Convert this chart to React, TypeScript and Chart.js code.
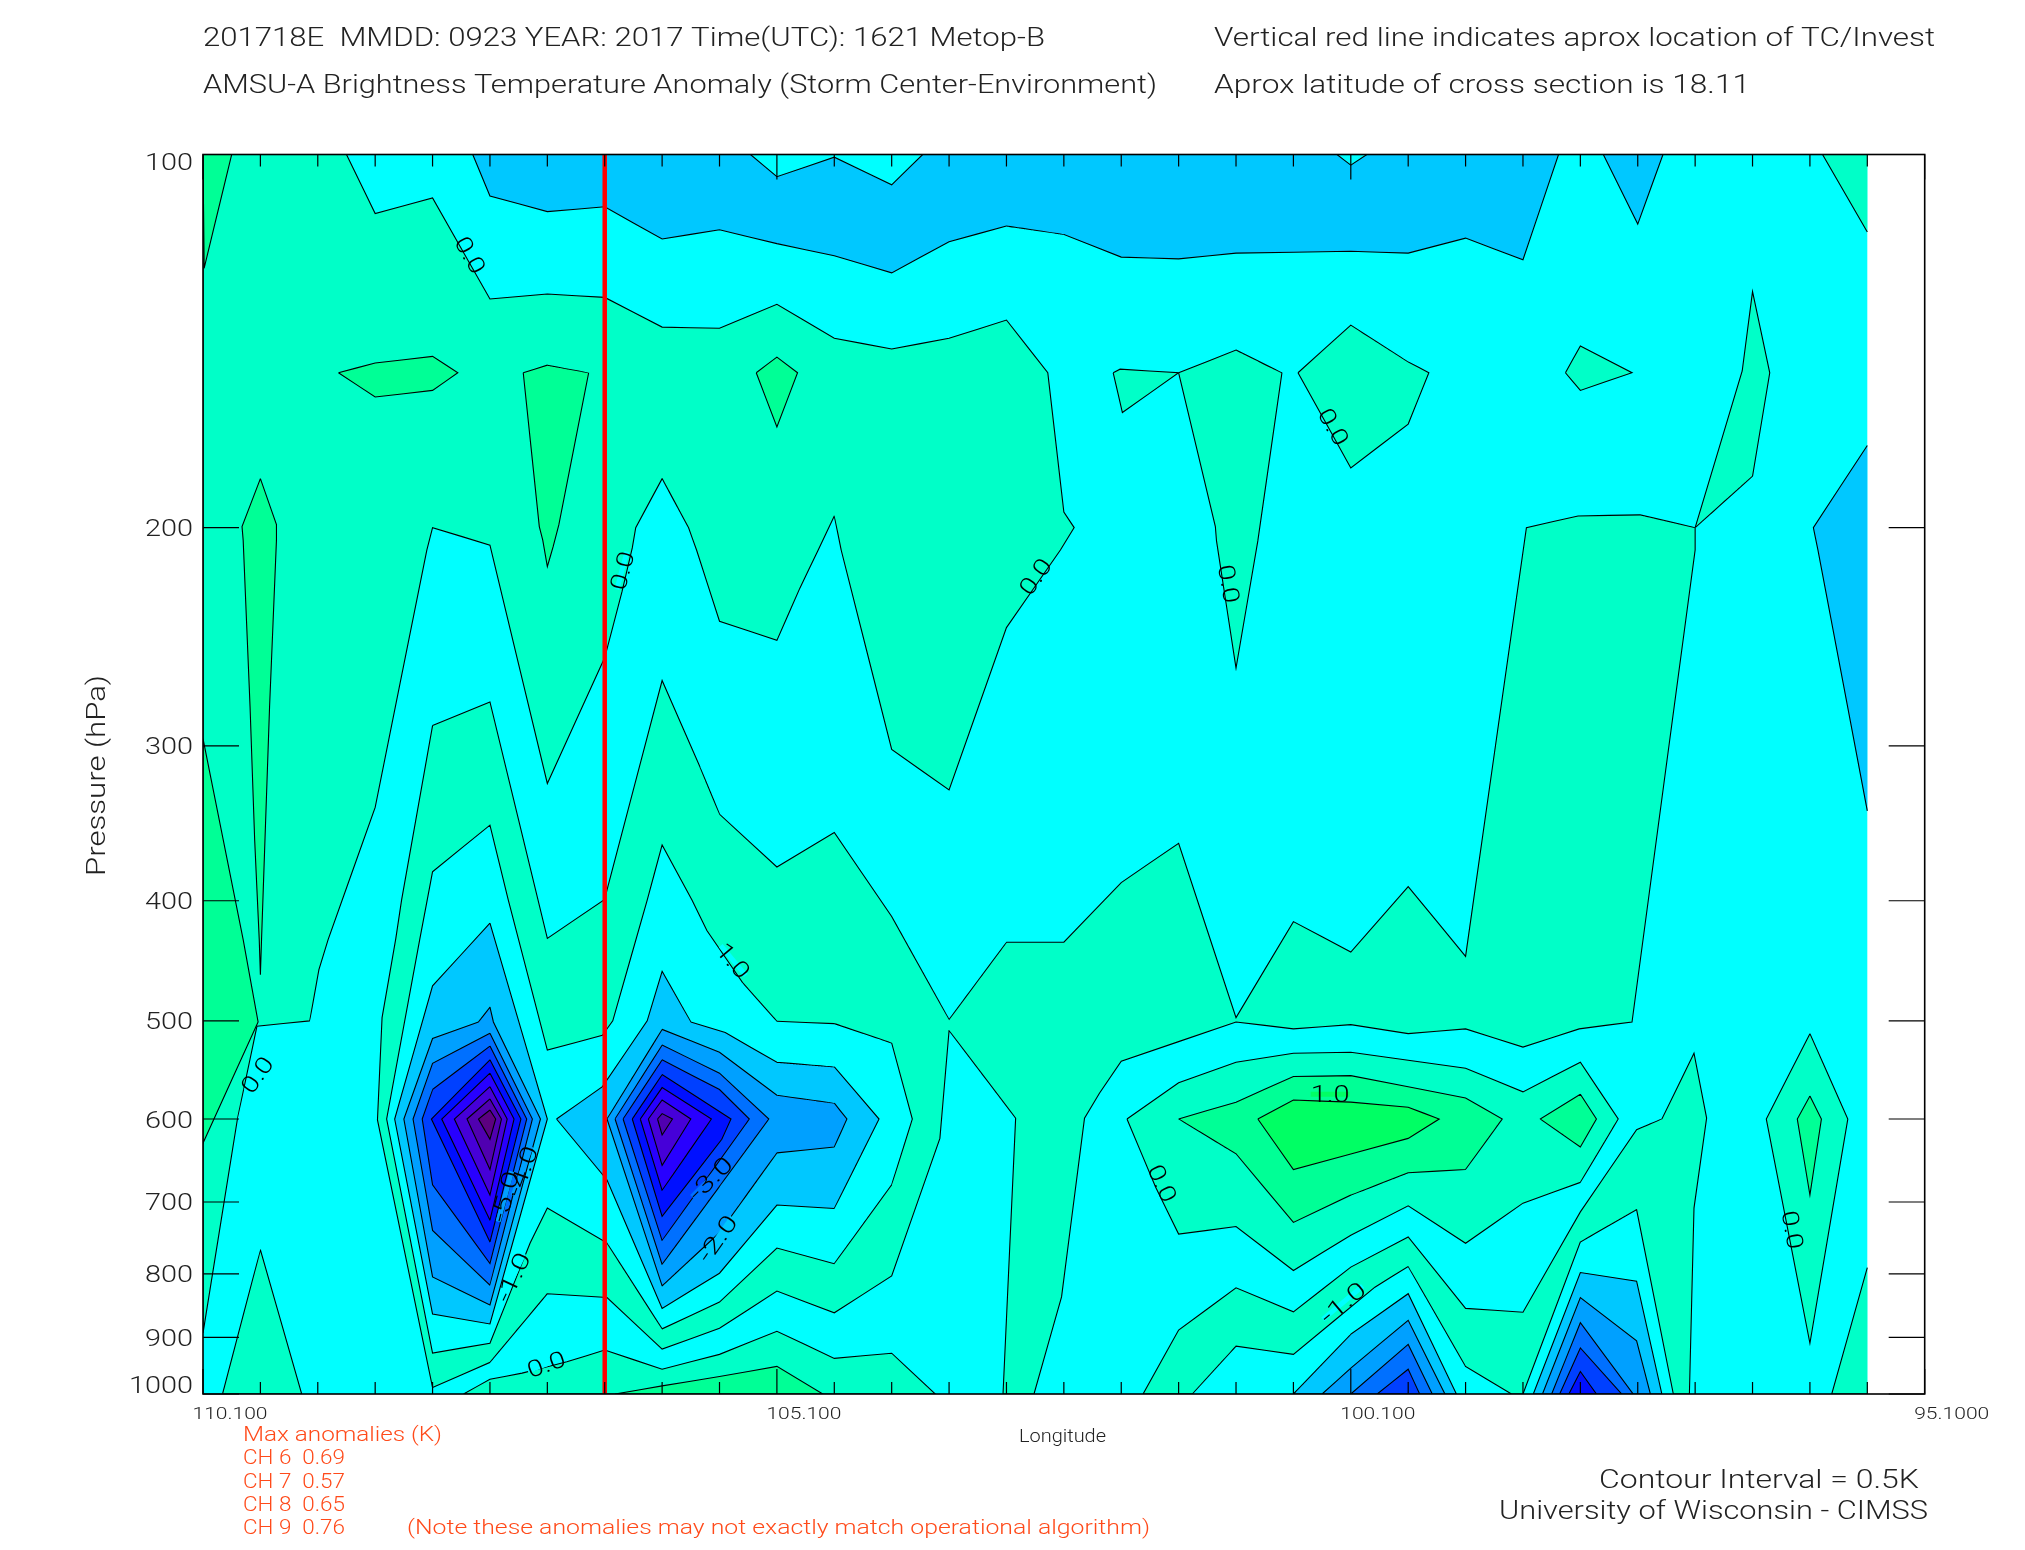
import React, { useEffect, useRef } from "react";
import { Chart, registerables } from "chart.js";

Chart.register(...registerables);

type Pt = [number, number];

// ---- axes ----
const xMinorTicks = [110.1,109.6,109.1,108.6,108.1,107.6,107.1,106.6,106.1,105.6,105.1,104.6,104.1,103.6,103.1,102.6,102.1,101.6,101.1,100.6,100.1,99.6,99.1,98.6,98.1,97.6,97.1,96.6,96.1,95.6,95.1];
const xMajorTicks = [110.1, 105.1, 100.1, 95.1];
const xMajorLabels = ["110.100", "105.100", "100.100", "95.1000"];
const pressureTicks = [100, 200, 300, 400, 500, 600, 700, 800, 900, 1000];
const stormLon = 106.6;

// ---- contour polygons [longitude, pressure hPa] ----
const domain: Pt[] = [[110.1,100],[95.6,100],[95.6,1000],[110.1,1000]];

const tealUpper: Pt[] = [[110.1,100],[108.85,100],[108.6,111.6],[108.1,108.4],[107.6,130.8],[107.1,129.6],[106.6,130.4],[106.1,137.8],[105.6,138.1],[105.1,132.1],[104.6,140.7],[104.1,143.5],[103.6,140.7],[103.1,136],[102.74,150],[102.6,194.3],[102.51,200],[102.63,208.5],[103.1,240.8],[103.6,325.6],[104.1,302],[104.54,208.5],[104.6,195.7],[104.74,208.5],[104.9,223.8],[105.1,246.6],[105.6,238],[105.8,208.5],[105.87,200],[106.1,182.6],[106.33,200],[106.36,207.7],[106.45,225.4],[106.6,254.6],[107.1,321.7],[107.6,206.6],[108.1,200],[108.15,208.5],[108.6,336.3],[109.01,430],[109.09,454.5],[109.17,500],[109.63,505],[109.8,600],[110.1,893]];

const tealMiddle: Pt[] = [[108.1,288.9],[107.6,276.5],[107.1,429],[106.6,399],[106.58,392],[106.1,265.7],[105.77,312],[105.6,340.6],[105.1,375.7],[104.6,352.4],[104.1,411.9],[103.6,498.8],[103.1,432],[102.6,432],[102.1,386.7],[101.6,359.5],[101.1,497],[100.6,415.8],[100.1,440],[99.6,389.6],[99.1,443.5],[98.57,200],[98.12,195.7],[97.58,195.3],[97.1,200],[97.1,208.5],[97.65,501],[98.11,507.5],[98.6,525],[99.1,507.5],[99.6,512],[100.1,503.5],[100.6,507.5],[101.1,501],[102.1,539],[102.29,572],[102.42,599],[102.62,835],[102.86,1000],[103.13,1000],[103.02,599],[103.6,509],[103.68,622],[104.1,803],[104.6,860],[105.1,826],[105.6,885],[106.1,920],[106.58,836],[107.1,830],[107.6,943],[108.1,988],[108.58,601],[108.54,497],[108.42,429],[108.37,399.5]];

const cyanHole: Pt[] = [[108.1,379],[107.6,347.6],[107.44,399.5],[107.1,527.9],[106.62,513.5],[106.53,500],[106.23,399.5],[106.1,360.6],[105.84,399.5],[105.71,422.7],[105.4,465.6],[105.1,500.4],[104.6,502.6],[104.1,521],[103.92,600],[104.1,678],[104.6,785],[105.1,762.5],[105.6,843],[106.1,886],[106.58,755.5],[107.1,708],[107.25,755.5],[107.6,910],[108.1,926.7],[108.5,600],[108.21,429]];

const tealBottom: Pt[] = [[107.83,1000],[107.6,973],[107.32,962],[106.93,942],[106.6,921.6],[106.1,955],[105.6,929],[105.1,890],[104.6,936],[104.1,927],[103.72,1000]];
const greenBottom: Pt[] = [[106.51,1000],[106.1,985],[105.6,968],[105.1,950],[104.7,1000]];
const tealBottomLeft: Pt[] = [[109.93,1000],[109.6,765],[109.24,1000]];
const tealLowerRight: Pt[] = [[101.91,1000],[101.6,888],[101.1,821],[100.6,858.5],[100.1,790],[99.6,747],[99.1,853],[98.6,859],[98.1,713],[97.61,612],[97.39,600],[97.11,531],[97.0,599],[97.11,708],[97.13,840],[97.15,1000],[97.29,1000],[97.61,710],[98.1,754],[98.6,1000],[98.7,1000],[99.1,950],[99.6,789],[99.89,820],[100.6,929],[101.1,915],[101.48,1000]];
const tealCentreRight: Pt[] = [[102.05,600],[101.6,561],[101.1,540],[100.6,531],[100.1,530],[99.1,546],[98.6,570.5],[98.1,540],[97.77,600],[98.1,675],[98.6,701.5],[99.1,755.7],[99.6,705],[100.1,744.5],[100.6,795],[101.1,732.7],[101.6,743],[101.8,681]];
const tealIsleA: Pt[] = [[102.17,150],[102.11,149],[101.6,150],[102.09,161.5]];
const tealIsleB: Pt[] = [[101.6,150],[101.1,143.8],[100.7,150],[100.91,205],[101.1,259.6],[101.27,205],[101.28,199.6]];
const tealIsleC: Pt[] = [[100.56,150],[100.1,137.3],[99.6,147],[99.42,150],[99.6,165],[100.1,179]];
const tealIsleD: Pt[] = [[98.23,150],[98.1,142.7],[97.65,150],[98.1,155]];
const tealSliver: Pt[] = [[97.1,200],[96.69,149.5],[96.6,129],[96.45,150],[96.6,181.8]];
const tealTopRight: Pt[] = [[95.6,100],[95.99,100],[95.6,115.5]];
const tealEdgeRight: Pt[] = [[95.6,790.7],[95.91,1000],[95.6,1000]];
const tealDiamond: Pt[] = [[96.1,512],[95.77,600],[96.1,910],[96.48,600]];

const skyTop: Pt[] = [[107.75,100],[107.6,108],[107.1,111.2],[106.6,110.2],[106.1,117],[105.6,115],[105.1,118],[104.6,120.7],[104.1,124.6],[103.6,117.6],[103.1,114.2],[102.6,116],[102.1,121],[101.6,121.4],[101.1,120.1],[100.1,119.7],[99.6,120.1],[99.1,116.8],[98.6,121.6],[98.29,100],[99.96,100],[100.1,102],[100.22,100],[103.83,100],[104.1,105.8],[104.6,100.5],[105.1,104.2],[105.33,100]];
const skyWedge: Pt[] = [[97.9,100],[97.6,113.8],[97.38,100]];
const skyRight: Pt[] = [[95.6,171.7],[96.07,200],[96.03,208.5],[95.6,338.5]];

const greenTopLeft: Pt[] = [[110.1,100],[109.85,100],[110.09,123.5]];
const greenIsleA: Pt[] = [[108.92,150],[108.6,147.3],[108.1,145.5],[107.88,150],[108.1,155],[108.6,156.9]];
const greenIsleB: Pt[] = [[107.31,150],[107.1,147.9],[106.74,150],[107.0,199],[107.05,207.3],[107.1,215],[107.14,204.7],[107.17,199.6]];
const greenIsleC: Pt[] = [[105.28,150],[105.1,145.7],[104.92,150],[105.1,165.9]];
const greenNeedle: Pt[] = [[109.6,182.6],[109.46,198.9],[109.46,204.7],[109.52,279],[109.56,357],[109.59,430],[109.6,459],[109.61,430],[109.65,357],[109.69,279],[109.75,204.7],[109.76,199.6]];
const greenLeftEdge: Pt[] = [[110.1,296],[109.75,430],[109.62,501],[110.1,627.5]];
const greenCentre: Pt[] = [[101.6,600],[101.1,581.5],[100.6,554.5],[100.1,553.5],[99.1,577],[98.78,600],[99.1,659],[99.6,663],[100.1,691],[100.6,727],[101.1,640]];
const limeCentre: Pt[] = [[100.91,600],[100.6,579.2],[100.1,581.5],[99.6,587],[99.33,600],[99.6,622],[100.6,659]];
const greenSmallDiamond: Pt[] = [[98.1,573],[97.96,600],[98.1,632],[98.45,600]];
const greenRightDiamond: Pt[] = [[96.1,575],[96.0,600],[96.1,691],[96.21,600]];

// first warm-core column, outer to inner
const eyeA1: Pt[] = [[107.6,417],[107.1,600],[107.6,878],[108.1,862],[108.43,600],[108.1,468.5]];
const eyeA2: Pt[] = [[107.6,487.5],[107.57,501],[107.16,600],[107.6,847.5],[108.1,804.6],[108.35,600],[108.1,516.6],[107.7,501]];
const eyeA3: Pt[] = [[107.6,511.7],[107.23,600],[107.6,817],[108.1,738],[108.27,600],[108.1,541]];
const eyeA4: Pt[] = [[107.6,524],[107.28,600],[107.6,784.8],[108.1,678],[108.19,600],[108.1,568]];
const eyeA5: Pt[] = [[107.6,537.5],[107.33,600],[107.6,754],[108.11,600]];
const eyeA6: Pt[] = [[107.6,551],[107.39,600],[107.6,724],[108.02,600]];
const eyeA7: Pt[] = [[107.6,565],[107.45,600],[107.6,691],[107.91,600]];
const eyeA8: Pt[] = [[107.6,578],[107.5,600],[107.6,659],[107.8,600]];
const eyeA9: Pt[] = [[107.6,590],[107.55,600],[107.6,623],[107.7,600]];

// second column
const eyeB1: Pt[] = [[107.02,600],[106.62,565],[106.23,500],[106.1,456],[105.85,501],[105.55,511],[105.1,540],[104.6,544.6],[104.21,600],[104.6,708.5],[105.1,704],[105.6,799],[106.1,853],[106.58,672]];
const eyeB2: Pt[] = [[106.58,600],[106.1,508],[105.6,530],[105.1,574],[104.6,582.5],[104.49,600],[104.6,632],[105.1,639],[105.6,741],[106.1,818]];
const eyeB3: Pt[] = [[106.51,600],[106.1,523],[105.6,551],[105.17,600],[105.6,680],[106.1,786]];
const eyeB4: Pt[] = [[106.44,600],[106.1,537.5],[105.6,568],[105.34,600],[106.1,752]];
const eyeB5: Pt[] = [[106.36,600],[106.1,552.5],[105.5,600],[105.58,623],[106.1,719]];
const eyeB6: Pt[] = [[106.29,600],[106.1,566],[105.67,600],[106.1,685]];
const eyeB7: Pt[] = [[106.22,600],[106.1,579.2],[105.85,600],[106.1,654]];
const eyeB8: Pt[] = [[106.14,600],[106.1,594],[106.01,600],[106.1,618]];

// low-level cold pools
const coolC1: Pt[] = [[100.6,1000],[100.1,895],[99.6,830],[99.18,1000]];
const coolC2: Pt[] = [[100.35,1000],[100.1,953],[99.6,872],[99.28,1000]];
const coolC3: Pt[] = [[100.1,1000],[99.6,912],[99.39,1000]];
const coolC4: Pt[] = [[99.87,1000],[99.6,955],[99.5,1000]];
const coolD1: Pt[] = [[98.51,1000],[98.1,798],[97.61,811],[97.39,1000]];
const coolD2: Pt[] = [[98.43,1000],[98.1,836],[97.61,906],[97.49,1000]];
const coolD3: Pt[] = [[98.35,1000],[98.1,876],[97.64,1000]];
const coolD4: Pt[] = [[98.28,1000],[98.1,918],[97.74,1000]];
const coolD5: Pt[] = [[98.2,1000],[98.1,959],[97.96,1000]];

// ---- colours ----
const CYAN = "#00FFFF", TEAL = "#00FFC8", GREEN = "#00FF96", LIME = "#00FF64";
const C1 = "#00C8FF", C2 = "#00A0FF", C3 = "#0070FF", C4 = "#0040FF", C5 = "#0010FF", C6 = "#2800FF", C7 = "#4600D8", C8 = "#5000B0", C9 = "#5C0080";

// painter's order, bottom first
const layers: [Pt[], string][] = [
  [tealUpper, TEAL], [tealMiddle, TEAL], [cyanHole, CYAN], [tealBottom, TEAL], [greenBottom, GREEN], [tealBottomLeft, TEAL],
  [tealLowerRight, TEAL], [tealCentreRight, TEAL], [tealIsleA, TEAL], [tealIsleB, TEAL], [tealIsleC, TEAL], [tealIsleD, TEAL],
  [tealSliver, TEAL], [tealTopRight, TEAL], [tealEdgeRight, TEAL], [tealDiamond, TEAL],
  [skyTop, C1], [skyWedge, C1], [skyRight, C1],
  [greenTopLeft, GREEN], [greenIsleA, GREEN], [greenIsleB, GREEN], [greenIsleC, GREEN], [greenNeedle, GREEN], [greenLeftEdge, GREEN],
  [greenCentre, GREEN], [limeCentre, LIME], [greenSmallDiamond, GREEN], [greenRightDiamond, GREEN],
  [eyeB1, C1], [eyeA1, C1], [eyeA2, C2], [eyeA3, C3], [eyeA4, C4], [eyeA5, C5], [eyeA6, C6], [eyeA7, C7], [eyeA8, C8], [eyeA9, C9],
  [eyeB2, C2], [eyeB3, C3], [eyeB4, C4], [eyeB5, C5], [eyeB6, C6], [eyeB7, C7], [eyeB8, C8],
  [coolC1, C1], [coolC2, C2], [coolC3, C3], [coolC4, C4],
  [coolD1, C1], [coolD2, C2], [coolD3, C3], [coolD4, C4], [coolD5, C5],
];
const openPaths = [tealTopRight, tealEdgeRight, skyRight];

// contour labels: text, lon, pressure, angle, colour of the gap in the line
const contourLabels: [string, number, number, number, string][] = [
  ["0.0",107.77,120.5,60,CYAN],["0.0",106.45,216.6,-75,CYAN],["0.0",102.85,219,-55,TEAL],["0.0",101.16,222,80,TEAL],["0.0",100.25,165.8,60,TEAL],
  ["0.0",109.63,552.5,-55,CYAN],["0.0",107.11,946,-20,CYAN],["1.0",105.48,447,50,CYAN],["-3.0",105.68,670,-45,C3],["-2.0",105.62,749,-55,C1],
  ["-4.0",107.32,661,-70,C2],["-5.0",107.47,693,-75,C2],["-1.0",107.4,805,-65,CYAN],["1.0",100.28,573,0,LIME],["-1.0",100.17,844,-40,CYAN],
  ["0.0",101.74,676,65,TEAL],["0.0",96.25,737,80,TEAL],
];

const titleLeft1 = "201718E  MMDD: 0923 YEAR: 2017 Time(UTC): 1621 Metop-B";
const titleLeft2 = "AMSU-A Brightness Temperature Anomaly (Storm Center-Environment)";
const titleRight1 = "Vertical red line indicates aprox location of TC/Invest";
const titleRight2 = "Aprox latitude of cross section is 18.11";
const anomalyLines = ["Max anomalies (K)", "CH 6  0.69", "CH 7  0.57", "CH 8  0.65", "CH 9  0.76"];
const anomalyNote = "(Note these anomalies may not exactly match operational algorithm)";
const footer1 = "Contour Interval = 0.5K";
const footer2 = "University of Wisconsin - CIMSS";

const FONT = "Roboto, 'Liberation Sans', sans-serif";
const INK = "#222222";
const ORANGE = "#FF4A1A";

function fit(ctx: CanvasRenderingContext2D, s: string, x0: number, x1: number, y: number, font: string, color: string) {
  ctx.save();
  ctx.font = font;
  ctx.fillStyle = color;
  ctx.textAlign = "left";
  ctx.textBaseline = "alphabetic";
  const w = ctx.measureText(s).width;
  ctx.translate(x0, y);
  ctx.scale((x1 - x0) / w, 1);
  ctx.fillText(s, 0, 0);
  ctx.restore();
}

const decorations = {
  id: "decorations",
  afterDatasetsDraw(chart: any) {
    const { ctx, chartArea: a, scales } = chart;
    const x = scales.x, y = scales.y;
    ctx.save();
    // contour labels
    for (const [t, lon, p, ang, gap] of contourLabels) {
      const px = x.getPixelForValue(lon), py = y.getPixelForValue(p);
      ctx.save();
      ctx.translate(px, py);
      ctx.rotate((ang * Math.PI) / 180);
      const w = t.length * 13;
      ctx.fillStyle = gap;
      ctx.fillRect(-w / 2, -2.5, w, 5);
      fit(ctx, t, -w / 2, w / 2, 8, `300 23px ${FONT}`, "#000");
      ctx.restore();
    }
    // ticks from the scales
    ctx.strokeStyle = "#000";
    ctx.lineWidth = 1.2;
    ctx.beginPath();
    for (const t of x.ticks) {
      const px = x.getPixelForValue(t.value);
      const len = xMajorTicks.includes(t.value) ? 25 : 12;
      ctx.moveTo(px, a.top); ctx.lineTo(px, a.top + len);
      ctx.moveTo(px, a.bottom); ctx.lineTo(px, a.bottom - len);
    }
    for (const t of y.ticks) {
      const py = y.getPixelForValue(t.value);
      ctx.moveTo(a.left, py); ctx.lineTo(a.left + 36, py);
      ctx.moveTo(a.right, py); ctx.lineTo(a.right - 36, py);
    }
    ctx.stroke();
    ctx.lineWidth = 1.6;
    ctx.strokeRect(a.left, a.top, a.right - a.left, a.bottom - a.top);
    ctx.restore();
  },
  afterDraw(chart: any) {
    const { ctx, scales } = chart;
    const x = scales.x, y = scales.y;
    const big = `300 25px ${FONT}`;
    fit(ctx, titleLeft1, 203, 1045, 46, big, INK);
    fit(ctx, titleLeft2, 203, 1157, 93, big, INK);
    fit(ctx, titleRight1, 1214, 1935, 46, big, INK);
    fit(ctx, titleRight2, 1214, 1750, 93, big, INK);
    fit(ctx, footer1, 1599, 1919, 1488, big, INK);
    fit(ctx, footer2, 1499, 1928, 1519, big, INK);

    const red = `300 20px ${FONT}`;
    fit(ctx, anomalyLines[0], 243, 442, 1441, red, ORANGE);
    [1464, 1488, 1511, 1534].forEach((b, i) => fit(ctx, anomalyLines[i + 1], 243, 345, b, red, ORANGE));
    fit(ctx, anomalyNote, 407, 1150, 1534, red, ORANGE);

    fit(ctx, "Longitude", 1019, 1106, 1442, `300 18px ${FONT}`, INK);
    xMajorTicks.forEach((v, i) => {
      const c = x.getPixelForValue(v) + 27;
      fit(ctx, xMajorLabels[i], c - 37.5, c + 37.5, 1419, `300 17px ${FONT}`, INK);
    });
    for (const t of y.ticks) {
      const py = y.getPixelForValue(t.value);
      const label = String(t.label);
      const b = Math.min(1393, Math.max(170, py + 8.5));
      fit(ctx, label, 193 - 16 * label.length, 193, b, `300 24px ${FONT}`, INK);
    }
    ctx.save();
    ctx.translate(105, 876);
    ctx.rotate(-Math.PI / 2);
    fit(ctx, "Pressure (hPa)", 0, 201, 0, big, INK);
    ctx.restore();
  },
};

const toXY = (p: Pt[]) => p.map(([lon, hpa]) => ({ x: lon, y: hpa }));
const sharp = { showLine: true, pointRadius: 0, pointHoverRadius: 0, tension: 1e-6 };

export default function App() {
  const ref = useRef<HTMLCanvasElement>(null);
  useEffect(() => {
    const paint = layers.map(([poly, color]) => ({
      data: toXY(openPaths.includes(poly) ? poly : [...poly, poly[0]]),
      backgroundColor: color,
      borderColor: "#000",
      borderWidth: 1.1,
      fill: "shape",
      ...sharp,
    }));
    const datasets = [
      { data: toXY([[stormLon, 100], [stormLon, 1000]]), borderColor: "#FF0000", borderWidth: 4.5, fill: false, ...sharp },
      ...paint.reverse(),
      { data: toXY(domain), backgroundColor: CYAN, borderWidth: 0, borderColor: CYAN, fill: "shape", ...sharp },
    ];
    const chart = new Chart(ref.current as HTMLCanvasElement, {
      type: "scatter",
      data: { datasets: datasets as any },
      plugins: [decorations],
      options: {
        responsive: false,
        animation: false,
        events: [],
        layout: { padding: { left: 203, top: 154.5, right: 100.3, bottom: 156 } },
        plugins: { legend: { display: false }, tooltip: { enabled: false }, title: { display: false } },
        scales: {
          x: {
            type: "linear", min: 95.1, max: 110.1, reverse: true,
            grid: { display: false }, border: { display: false },
            ticks: { display: false, autoSkip: false },
            afterBuildTicks: (s: any) => { s.ticks = xMinorTicks.map((value) => ({ value })); },
            afterFit: (s: any) => { s.height = 0; },
          },
          y: {
            type: "logarithmic", min: 100, max: 1000, reverse: true,
            grid: { display: false }, border: { display: false },
            ticks: { display: false, autoSkip: false, callback: (v: any) => String(v) },
            afterBuildTicks: (s: any) => { s.ticks = pressureTicks.map((value) => ({ value })); },
            afterFit: (s: any) => { s.width = 0; },
          },
        },
      } as any,
    });
    return () => chart.destroy();
  }, []);
  return (
    <div style={{ position: "absolute", left: 0, top: 0, width: 2025, height: 1550, background: "#fff" }}>
      <canvas ref={ref} width={2025} height={1550} style={{ display: "block" }} />
    </div>
  );
}
